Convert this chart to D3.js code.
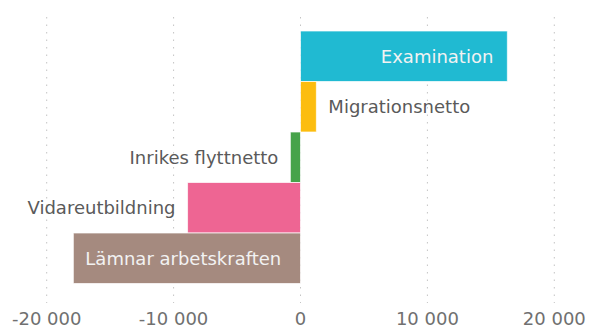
<!DOCTYPE html>
<html>
<head>
<meta charset="utf-8">
<script src="https://cdn.jsdelivr.net/npm/d3@7"></script>
<style>
  html, body { margin: 0; padding: 0; background: #fff; }
  svg { display: block; font-family: "DejaVu Sans", Verdana, sans-serif; }
</style>
</head>
<body>
<svg id="chart" width="590" height="329"></svg>
<script>
// Flows in and out of the workforce
const categories = ["Examination", "Migrationsnetto", "Inrikes flyttnetto", "Vidareutbildning", "Lämnar arbetskraften"];
const values = [16300, 1250, -800, -8900, -17900];
const colors = ["#20bad2", "#fcbd0f", "#46a34a", "#ee6593", "#a58a7f"];
const labelInside = [true, false, false, false, true];
const tickValues = [-20000, -10000, 0, 10000, 20000];

const svg = d3.select("#chart");

const x = d3.scaleLinear().domain([-20000, 20000]).range([46.7, 554.3]);
const y = d3.scaleBand().domain(categories).range([31, 283.5]).padding(0);

// thousands separated by a space, plain hyphen for negatives
const fmt = v => d3.format(",")(v).replace(/,/g, " ").replace("\u2212", "-");

// dotted vertical gridlines
svg.append("g").selectAll("line")
  .data(tickValues)
  .join("line")
  .attr("x1", d => x(d)).attr("x2", d => x(d))
  .attr("y1", 17).attr("y2", 303)
  .attr("stroke", "#c4c4c4")
  .attr("stroke-width", 1)
  .attr("stroke-dasharray", "1.5,6");

// bars
svg.append("g").selectAll("rect")
  .data(categories)
  .join("rect")
  .attr("x", (d, i) => Math.min(x(0), x(values[i])))
  .attr("width", (d, i) => Math.abs(x(values[i]) - x(0)))
  .attr("y", d => y(d))
  .attr("height", y.bandwidth())
  .attr("fill", (d, i) => colors[i])
  .attr("stroke", "#fff")
  .attr("stroke-opacity", 0.7)
  .attr("stroke-width", 1);

// category labels
svg.append("g").selectAll("text")
  .data(categories)
  .join("text")
  .attr("y", d => y(d) + y.bandwidth() / 2)
  .attr("dy", "0.35em")
  .attr("font-size", 18)
  .attr("x", (d, i) => {
    const v = values[i];
    if (labelInside[i]) return v > 0 ? x(v) - 14 : x(v) + 12;
    return v > 0 ? x(v) + 12 : x(v) - 12;
  })
  .attr("text-anchor", (d, i) => {
    const v = values[i];
    if (labelInside[i]) return v > 0 ? "end" : "start";
    return v > 0 ? "start" : "end";
  })
  .attr("fill", (d, i) => labelInside[i] ? "#f2f2f2" : "#5a5a5a")
  .text(d => d);

// x axis tick labels
svg.append("g").selectAll("text")
  .data(tickValues)
  .join("text")
  .attr("x", d => x(d))
  .attr("y", 325)
  .attr("text-anchor", "middle")
  .attr("font-size", 18)
  .attr("fill", "#707070")
  .text(d => fmt(d));
</script>
</body>
</html>
